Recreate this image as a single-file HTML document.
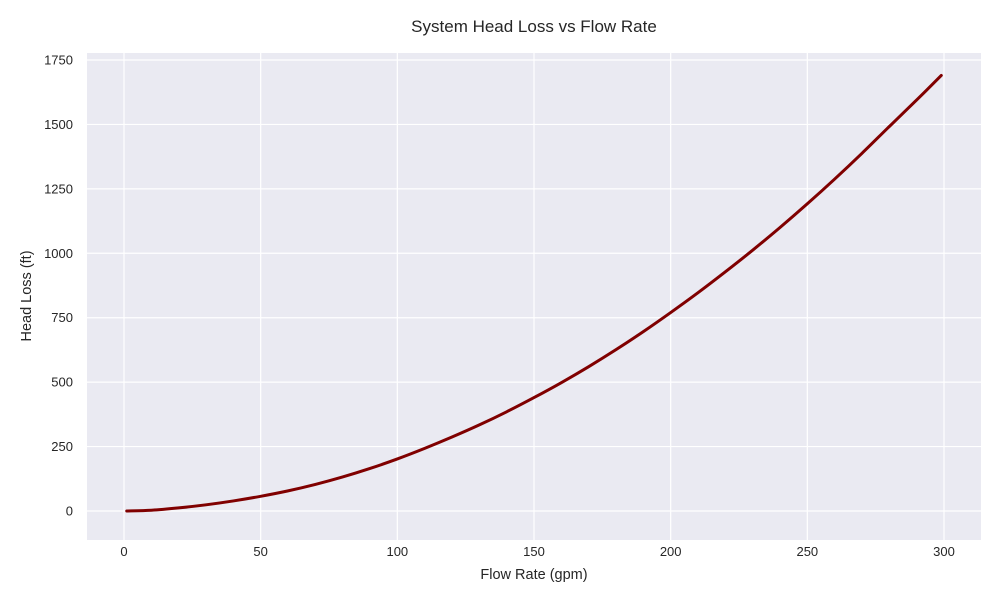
<!DOCTYPE html>
<html><head><meta charset="utf-8"><style>
body{margin:0;background:#fff;font-family:"Liberation Sans",sans-serif}
</style></head><body>
<svg id="chart" width="1000" height="600" xmlns="http://www.w3.org/2000/svg"></svg>
<script>
const flowRates=[1,10,20,30,40,50,60,70,80,90,100,110,120,130,140,150,160,170,180,190,200,210,220,230,240,250,260,270,280,290,299];
const headLoss=[0,3,12,24,39,57,78,103,132,165,202,243,287,334,385,440,498,560,626,696,770,847,928,1012,1100,1192,1288,1388,1492,1595,1690];
const xTicks=[0,50,100,150,200,250,300];
const yTicks=[0,250,500,750,1000,1250,1500,1750];
const svg=document.getElementById('chart');
const NS='http://www.w3.org/2000/svg';
const L=87,R=981,T=53,B=540;
const xs=v=>124+v*(944-124)/300;
const ys=v=>511-v*(511-60)/1750;
function mk(tag,attrs,parent){const e=document.createElementNS(NS,tag);for(const k in attrs)e.setAttribute(k,attrs[k]);(parent||svg).appendChild(e);return e;}
const bg=mk('rect',{x:L,y:T,width:R-L,height:B-T,fill:'#eaeaf2'});


xTicks.forEach(t=>{
  const g=mk('line',{x1:xs(t),x2:xs(t),y1:T,y2:B,stroke:'#fff','stroke-width':1.2});
  
  
  const tx=mk('text',{x:xs(t),y:556,'text-anchor':'middle','font-size':13,fill:'#262626'});
  tx.textContent=t;
  
  
});
yTicks.forEach(t=>{
  const g=mk('line',{x1:L,x2:R,y1:ys(t),y2:ys(t),stroke:'#fff','stroke-width':1.2});
  
  
  const tx=mk('text',{x:73,y:ys(t)+4.5,'text-anchor':'end','font-size':13,fill:'#262626'});
  tx.textContent=t;
  
  
});
const pts=flowRates.map((q,i)=>[xs(q),ys(headLoss[i])]);
let d='M'+pts[0][0]+','+pts[0][1];
for(let i=0;i<pts.length-1;i++){
  const p0=pts[i-1]||pts[i],p1=pts[i],p2=pts[i+1],p3=pts[i+2]||p2;
  const c1=[p1[0]+(p2[0]-p0[0])/6,p1[1]+(p2[1]-p0[1])/6];
  const c2=[p2[0]-(p3[0]-p1[0])/6,p2[1]-(p3[1]-p1[1])/6];
  d+=' C'+c1.join(',')+' '+c2.join(',')+' '+p2.join(',');
}
const line=mk('path',{d:d,fill:'none',stroke:'#800000','stroke-width':3,'stroke-linejoin':'round','stroke-linecap':'round'});


const title=mk('text',{x:534,y:32,'text-anchor':'middle','font-size':17,fill:'#262626'});
title.textContent='System Head Loss vs Flow Rate';


const xl=mk('text',{x:534,y:579,'text-anchor':'middle','font-size':14.5,fill:'#262626'});
xl.textContent='Flow Rate (gpm)';


const yl=mk('text',{x:0,y:0,'text-anchor':'middle','font-size':14.5,fill:'#262626',transform:'translate(31,296) rotate(-90)'});
yl.textContent='Head Loss (ft)';


</script>
</body></html>
